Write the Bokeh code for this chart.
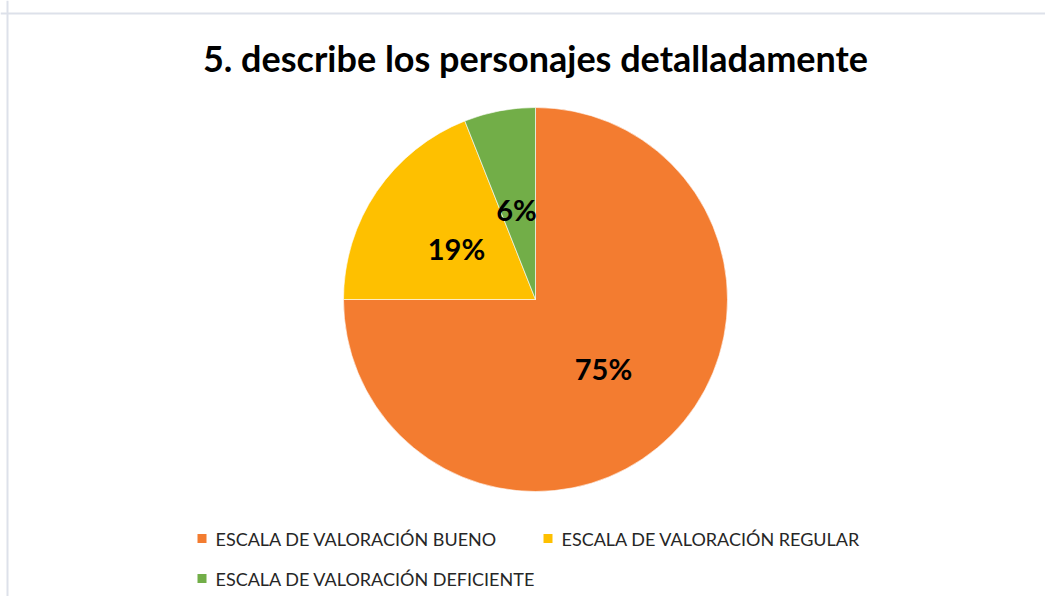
import numpy as np
from bokeh.plotting import figure
from bokeh.models import Range1d, Span, ColumnDataSource
from bokeh.core.properties import value
from bokeh.embed import file_html
from bokeh.resources import INLINE

title = "5. describe los personajes detalladamente"
categories = ["ESCALA DE VALORACIÓN BUENO", "ESCALA DE VALORACIÓN REGULAR",
              "ESCALA DE VALORACIÓN DEFICIENTE"]
values = [75, 19, 6]
labels = ["75%", "19%", "6%"]
colors = ["#F37C30", "#FEC000", "#72AE48"]

W, H = 1045, 596
p = figure(width=W, height=H, output_backend="svg", toolbar_location=None,
           x_range=Range1d(0, W), y_range=Range1d(0, H),
           min_border=0, min_border_left=0, min_border_right=0,
           min_border_top=0, min_border_bottom=0)
p.axis.visible = False
p.grid.visible = False
p.outline_line_color = None
p.background_fill_color = "white"
p.border_fill_color = "white"

def Y(py):  # image pixel y -> data y
    return H - py

def X(px):
    return px

# frame border
p.add_layout(Span(location=Y(13), dimension="width", line_color="#DDE1EA", line_width=2))
p.add_layout(Span(location=X(7), dimension="height", line_color="#DDE1EA", line_width=2))

# title
p.text(x=[X(535)], y=[Y(57)], text=[title], text_font=value("Lato"),
       text_font_style="bold", text_font_size="36px", text_align="center",
       text_baseline="middle", text_color="#000000")

# pie
vals = np.array(values, dtype=float)
frac = vals / vals.sum()
cum = np.concatenate([[0], np.cumsum(frac)])
start = np.pi / 2 - cum[:-1] * 2 * np.pi
end = np.pi / 2 - cum[1:] * 2 * np.pi
cx, cy, r = X(535), Y(299), 192
src = ColumnDataSource(dict(start=start, end=end, color=colors))
p.wedge(x=cx, y=cy, radius=r, start_angle="start", end_angle="end",
        direction="clock", fill_color="color", line_color="white",
        line_width=1, line_alpha=0.6, source=src)

# data labels
p.text(x=[X(603), X(456), X(516)], y=[Y(368), Y(248), Y(209)], text=labels,
       text_font=value("Lato"), text_font_style="bold", text_font_size="29px",
       text_align="center", text_baseline="middle", text_color="#000000")

# legend
leg_x = [X(197), X(543), X(197)]
leg_y = [Y(538), Y(538), Y(578)]
p.rect(x=[x + 4.5 for x in leg_x], y=leg_y, width=9, height=9,
       fill_color=colors, line_color=None)
p.text(x=[x + 18 for x in leg_x], y=leg_y, text=categories,
       text_font=value("Lato"), text_font_size="18px", text_align="left",
       text_baseline="middle", text_color="#262626")

open("out.html", "w").write(file_html(p, INLINE))
